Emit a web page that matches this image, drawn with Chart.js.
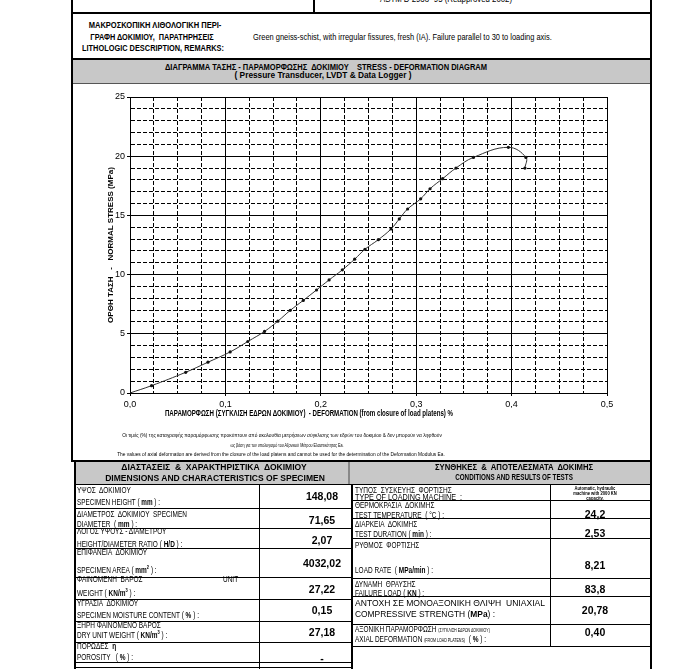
<!DOCTYPE html>
<html>
<head>
<meta charset="utf-8">
<script src="https://cdn.jsdelivr.net/npm/chart.js@4.4.0/dist/chart.umd.min.js"></script>
<style>
    body { margin: 0; background: #fff; }
    #page { position: relative; width: 681px; height: 669px; overflow: hidden; font-family: 'Liberation Sans', Arial, sans-serif; color: #000; }
    .ln { position: absolute; background: #000; }
    .gray { position: absolute; background: #c8c8c8; }
    .c, .l { position: absolute; white-space: nowrap; line-height: 1; }
    .c { transform: translate(-50%, -50%) scaleX(.75); }
    .l { transform-origin: 0 50%; transform: translateY(-50%) scaleX(.72); }
    .s { font-size: 9px; }
    .b { font-weight: bold; }
    .c.v { font-size: 10.5px; font-weight: bold; transform: translate(-50%, -50%); }
    .tiny { font-size: 5px; }
    #chart { position: absolute; left: 75px; top: 88px; }
</style>
</head>
<body>
<div id="page">
    <!-- frame -->
    <div class="ln" style="left:71px;top:0;width:2px;height:460px"></div>
    <div class="ln" style="left:74px;top:460px;width:2px;height:209px"></div>
    <div class="ln" style="left:650px;top:0;width:2px;height:669px"></div>
    <div class="ln" style="left:313px;top:0;width:2px;height:12px"></div>
    <div class="ln" style="left:71px;top:12px;width:581px;height:2px"></div>
    <div class="ln" style="left:71px;top:58px;width:581px;height:2px"></div>
    <div class="gray" style="left:73px;top:60px;width:577px;height:23px"></div>
    <div class="ln" style="left:73px;top:83px;width:577px;height:1px;background:#555"></div>

    <div class="c" style="left:446px;top:-1px;font-size:9px" data-w="132">ASTM D 2938 -95 (Reapproved 2002)</div>

    <!-- description -->
    <div class="c b" style="left:155px;top:25px;font-size:9px" data-w="133">ΜΑΚΡΟΣΚΟΠΙΚΗ ΛΙΘΟΛΟΓΙΚΗ ΠΕΡΙ-</div>
    <div class="c b" style="left:152px;top:36.5px;font-size:9px" data-w="123">ΓΡΑΦΗ ΔΟΚΙΜΙΟΥ,&nbsp; ΠΑΡΑΤΗΡΗΣΕΙΣ</div>
    <div class="c b" style="left:152.5px;top:48px;font-size:9px" data-w="142">LITHOLOGIC DESCRIPTION, REMARKS:</div>
    <div class="l" style="left:253px;top:36.5px;font-size:9.5px" data-w="299">Green gneiss-schist, with irregular fissures, fresh (IA). Failure parallel to 30 to loading axis.</div>

    <!-- chart header -->
    <div class="c b" style="left:326px;top:66.5px;font-size:9px" data-w="322">ΔΙΑΓΡΑΜΜΑ ΤΑΣΗΣ - ΠΑΡΑΜΟΡΦΩΣΗΣ&nbsp; ΔΟΚΙΜΙΟΥ &nbsp;&nbsp; STRESS - DEFORMATION DIAGRAM</div>
    <div class="c b" style="left:323px;top:75px;font-size:9px" data-w="177">( Pressure Transducer, LVDT &amp; Data Logger )</div>

    <canvas id="chart" width="545" height="320"></canvas>

    <div class="c b" style="left:309px;top:413px;font-size:9px" data-w="288">ΠΑΡΑΜΟΡΦΩΣΗ (ΣΥΓΚΛΙΣΗ ΕΔΡΩΝ ΔΟΚΙΜΙΟΥ)&nbsp; - DEFORMATION (from closure of load platens) %</div>

    <div class="c" style="left:282px;top:435px;font-size:6px" data-w="320">Οι τιμές (%) της καταγραφής παραμόρφωσης προκύπτουν από ακολουθία μετρήσεων σύγκλισης των εδρών του δοκιμίου &amp; δεν μπορούν να ληφθούν</div>
    <div class="c" style="left:287px;top:445px;font-size:6px" data-w="113">ως βάση για τον υπολογισμό του Αξονικού Μέτρου Ελαστικότητας Εa.</div>
    <div class="c" style="left:281px;top:453.5px;font-size:6px" data-w="328">The values of axial deformation are derived from the closure of the load platens and cannot be used for the determination of the Deformation Modulus Ea.</div>

    <!-- tables frame -->
    <div class="ln" style="left:71px;top:460px;width:581px;height:2px"></div>
    <div class="gray" style="left:76px;top:462px;width:272px;height:22px"></div>
    <div class="gray" style="left:350px;top:462px;width:300px;height:22px"></div>
    <div class="ln" style="left:348px;top:462px;width:2px;height:22px;background:#888"></div>
    <div class="ln" style="left:76px;top:484px;width:574px;height:1px"></div>
    <div class="ln" style="left:351px;top:484px;width:2px;height:185px"></div>

    <div class="c b" style="left:214px;top:467px;font-size:9px" data-w="185">ΔΙΑΣΤΑΣΕΙΣ&nbsp; &amp;&nbsp; ΧΑΡΑΚΤΗΡΙΣΤΙΚΑ&nbsp; ΔΟΚΙΜΙΟΥ</div>
    <div class="c b" style="left:215px;top:477.5px;font-size:9px" data-w="220">DIMENSIONS AND CHARACTERISTICS OF SPECIMEN</div>
    <div class="c b" style="left:514px;top:466.5px;font-size:9px" data-w="158">ΣΥΝΘΗΚΕΣ&nbsp; &amp;&nbsp; ΑΠΟΤΕΛΕΣΜΑΤΑ&nbsp; ΔΟΚΙΜΗΣ</div>
    <div class="c b" style="left:514px;top:477px;font-size:9px" data-w="118">CONDITIONS AND RESULTS OF TESTS</div>

    <!-- left table -->
    <div class="ln" style="left:259px;top:484px;width:1px;height:185px"></div>
    <div class="ln" style="left:76px;top:508px;width:275px;height:1px"></div>
    <div class="ln" style="left:76px;top:528px;width:275px;height:1px"></div>
    <div class="ln" style="left:76px;top:548px;width:275px;height:1px"></div>
    <div class="ln" style="left:76px;top:577px;width:275px;height:1px"></div>
    <div class="ln" style="left:76px;top:599px;width:275px;height:1px"></div>
    <div class="ln" style="left:76px;top:621px;width:275px;height:1px"></div>
    <div class="ln" style="left:76px;top:642px;width:275px;height:1px"></div>
    <div class="ln" style="left:76px;top:662px;width:275px;height:1px"></div>
    <div class="ln" style="left:76px;top:667px;width:275px;height:1px"></div>

    <div class="l s" style="left:77px;top:490px">ΥΨΟΣ&nbsp; ΔΟΚΙΜΙΟΥ</div>
    <div class="l s" style="left:77px;top:501.5px" data-w="83">SPECIMEN HEIGHT ( <b>mm</b> ) :</div>
    <div class="c v" style="left:322px;top:496px">148,08</div>

    <div class="l s" style="left:77px;top:514px">ΔΙΑΜΕΤΡΟΣ&nbsp; ΔΟΚΙΜΙΟΥ&nbsp; SPECIMEN</div>
    <div class="l s" style="left:77px;top:524px">DIAMETER&nbsp; ( <b>mm</b> ) :</div>
    <div class="c v" style="left:322px;top:519.5px">71,65</div>

    <div class="l s" style="left:77px;top:531px">ΛΟΓΟΣ ΥΨΟΥΣ - ΔΙΑΜΕΤΡΟΥ</div>
    <div class="l s" style="left:77px;top:544px">HEIGHT/DIAMETER RATIO ( <b>H/D</b> ) :</div>
    <div class="c v" style="left:322px;top:540px">2,07</div>

    <div class="l s" style="left:77px;top:552px">ΕΠΙΦΑΝΕΙΑ&nbsp; ΔΟΚΙΜΙΟΥ</div>
    <div class="l s" style="left:77px;top:570px">SPECIMEN AREA ( <b>mm<sup style="font-size:5.5px">2</sup></b> ) :</div>
    <div class="c v" style="left:322px;top:563px">4032,02</div>

    <div class="l s" style="left:77px;top:579px">ΦΑΙΝΟΜΕΝΗ&nbsp; ΒΑΡΟΣ</div>
    <div class="l s" style="left:223px;top:579px">UNIT</div>
    <div class="l s" style="left:77px;top:593px">WEIGHT ( <b>KN/m<sup style="font-size:5.5px">3</sup></b> ) :</div>
    <div class="c v" style="left:322px;top:588.5px">27,22</div>

    <div class="l s" style="left:77px;top:602.5px">ΥΓΡΑΣΙΑ&nbsp; ΔΟΚΙΜΙΟΥ</div>
    <div class="l s" style="left:77px;top:615px">SPECIMEN MOISTURE CONTENT ( <b>%</b> ) :</div>
    <div class="c v" style="left:322px;top:609.5px">0,15</div>

    <div class="l s" style="left:77px;top:625px">ΞΗΡΗ ΦΑΙΝΟΜΕΝΟ ΒΑΡΟΣ</div>
    <div class="l s" style="left:77px;top:635px">DRY UNIT WEIGHT ( <b>KN/m<sup style="font-size:5.5px">3</sup></b> ) :</div>
    <div class="c v" style="left:322px;top:631.5px">27,18</div>

    <div class="l s" style="left:77px;top:646px">ΠΟΡΩΔΕΣ&nbsp; <b>η</b></div>
    <div class="l s" style="left:77px;top:656.5px">POROSITY &nbsp; ( <b>%</b> ) :</div>
    <div class="c v" style="left:322px;top:658px">-</div>

    <!-- right table -->
    <div class="ln" style="left:550px;top:484px;width:1px;height:162px"></div>
    <div class="ln" style="left:353px;top:500px;width:297px;height:1px"></div>
    <div class="ln" style="left:353px;top:518px;width:297px;height:1px"></div>
    <div class="ln" style="left:353px;top:538px;width:297px;height:1px"></div>
    <div class="ln" style="left:353px;top:578px;width:297px;height:1px"></div>
    <div class="ln" style="left:353px;top:596px;width:297px;height:1px"></div>
    <div class="ln" style="left:353px;top:624px;width:297px;height:1px"></div>
    <div class="ln" style="left:353px;top:646px;width:297px;height:1px"></div>

    <div class="l s" style="left:354.5px;top:489.5px" data-w="97">ΤΥΠΟΣ&nbsp; ΣΥΣΚΕΥΗΣ&nbsp; ΦΟΡΤΙΣΗΣ</div>
    <div class="l s" style="left:354.5px;top:497px" data-w="107">TYPE OF LOADING MACHINE&nbsp; :</div>
    <div class="c b" style="left:595px;top:488.5px;font-size:5.5px">Automatic, hydraulic</div>
    <div class="c b" style="left:595px;top:493.5px;font-size:5.5px">machine with 2000 KN</div>
    <div class="c b" style="left:595px;top:498.5px;font-size:5.5px">capacity.</div>

    <div class="l s" style="left:354.5px;top:505px">ΘΕΡΜΟΚΡΑΣΙΑ&nbsp; ΔΟΚΙΜΗΣ</div>
    <div class="l s" style="left:354.5px;top:515px">TEST TEMPERATURE&nbsp; ( °C ) :</div>
    <div class="c v" style="left:595px;top:514px">24,2</div>

    <div class="l s" style="left:354.5px;top:523.5px">ΔΙΑΡΚΕΙΑ&nbsp; ΔΟΚΙΜΗΣ</div>
    <div class="l s" style="left:354.5px;top:533.5px">TEST DURATION ( <b>min</b> ) :</div>
    <div class="c v" style="left:595px;top:532.5px">2,53</div>

    <div class="l s" style="left:354.5px;top:544.5px">ΡΥΘΜΟΣ&nbsp; ΦΟΡΤΙΣΗΣ</div>
    <div class="l s" style="left:354.5px;top:570px">LOAD RATE&nbsp; ( <b>MPa/min</b> ) :</div>
    <div class="c v" style="left:595px;top:565px">8,21</div>

    <div class="l s" style="left:354.5px;top:584px">ΔΥΝΑΜΗ&nbsp; ΘΡΑΥΣΗΣ</div>
    <div class="l s" style="left:354.5px;top:592.5px">FAILURE LOAD ( <b>KN</b> ) :</div>
    <div class="c v" style="left:595px;top:589px">83,8</div>

    <div class="l s" style="left:354.5px;top:603px" data-w="190">ΑΝΤΟΧΗ ΣΕ ΜΟΝΟΑΞΟΝΙΚΗ ΘΛΙΨΗ&nbsp; UNIAXIAL</div>
    <div class="l s" style="left:354.5px;top:614px" data-w="140">COMPRESSIVE STRENGTH (<b>MPa</b>) :</div>
    <div class="c v" style="left:595px;top:610px">20,78</div>

    <div class="l s" style="left:354.5px;top:628.5px">ΑΞΟΝΙΚΗ ΠΑΡΑΜΟΡΦΩΣΗ <span class="tiny">(ΣΥΓΚΛΙΣΗ ΕΔΡΩΝ ΔΟΚΙΜΙΟΥ)</span></div>
    <div class="l s" style="left:354.5px;top:638.5px">AXIAL DEFORMATION <span class="tiny">(FROM LOAD PLATENS)</span>&nbsp; ( <b>%</b> ) :</div>
    <div class="c v" style="left:595px;top:632px">0,40</div>
</div>

<script>
// ─── Stress - deformation readings ───────────────────────────────────────────
const deformation = [0, 0.0226, 0.0584, 0.0817, 0.105, 0.1235, 0.141, 0.155, 0.168, 0.1816,
    0.1955, 0.2087, 0.2226, 0.2355, 0.2463, 0.2603, 0.2736, 0.2823, 0.291, 0.3047,
    0.3145, 0.3277, 0.3417, 0.36, 0.3966, 0.415, 0.414];
const stress = [0, 0.62, 1.75, 2.6, 3.47, 4.35, 5.2, 6.07, 6.98, 7.82,
    8.7, 9.55, 10.4, 11.3, 12.14, 12.95, 13.85, 14.7, 15.54, 16.4,
    17.25, 18.1, 19.0, 19.9, 20.75, 19.9, 19.0];

// major (labelled, solid) ticks; minor grid every xMinorStep / yMinorStep is dashed
const xMajorTicks = [0, 0.1, 0.2, 0.3, 0.4, 0.5];
const yMajorTicks = [0, 5, 10, 15, 20, 25];
const xMinorStep = 0.025;
const yMinorStep = 1;

window.addEventListener('DOMContentLoaded', () => {
    // squeeze text to the widths measured on the sheet
    document.querySelectorAll('[data-w]').forEach(el => {
        const k = +el.dataset.w / el.offsetWidth;
        el.style.transform = el.classList.contains('c')
            ? `translate(-50%, -50%) scaleX(${k})`
            : `translateY(-50%) scaleX(${k})`;
    });

    const isMajor = (list, v) => list.some(t => Math.abs(t - v) < 1e-6);
    const xMajor = v => isMajor(xMajorTicks, v);
    const yMajor = v => isMajor(yMajorTicks, v);
    const minorDash = (fn) => (c) => (c.tick && !fn(c.tick.value)) ? [4, 2] : [];
    const tickCol = (fn) => (c) => (c.tick && !fn(c.tick.value)) ? 'rgba(0,0,0,0)' : '#000';

    Chart.defaults.font.family = "'Liberation Sans', Arial, sans-serif";
    Chart.defaults.color = '#000';

    new Chart(document.getElementById('chart').getContext('2d'), {
        type: 'scatter',
        data: {
            datasets: [{
                data: deformation.map((x, i) => ({ x, y: stress[i] })),
                showLine: true,
                borderColor: '#333',
                borderWidth: 1,
                tension: 0.4,
                pointRadius: 1.6,
                pointBackgroundColor: '#111',
                pointBorderWidth: 0
            }]
        },
        options: {
            responsive: false,
            animation: false,
            events: [],
            layout: { padding: { top: 9, right: 13, bottom: 0, left: 0 } },
            plugins: { legend: { display: false }, tooltip: { enabled: false } },
            scales: {
                x: {
                    type: 'linear', min: 0, max: 0.5,
                    ticks: {
                        stepSize: xMinorStep, autoSkip: false, maxRotation: 0, maxTicksLimit: 100, padding: 3,
                        font: { size: 9 },
                        callback: v => xMajor(v) ? v.toFixed(1).replace('.', ',') : ''
                    },
                    grid: { color: '#000', lineWidth: 1, tickLength: 3, tickColor: tickCol(xMajor) },
                    border: { color: '#000', width: 1, dash: minorDash(xMajor) },
                    afterFit: s => { s.height = 15; }
                },
                y: {
                    type: 'linear', min: 0, max: 25,
                    ticks: {
                        stepSize: yMinorStep, autoSkip: false, maxTicksLimit: 100, padding: 2,
                        font: { size: 9 },
                        callback: v => yMajor(v) ? String(v) : ''
                    },
                    grid: { color: '#000', lineWidth: 1, tickLength: 3, tickColor: tickCol(yMajor) },
                    border: { color: '#000', width: 1, dash: minorDash(yMajor) },
                    title: {
                        display: true,
                        text: 'ΟΡΘΗ ΤΑΣΗ   -   NORMAL STRESS (MPa)',
                        font: { size: 8, weight: 'bold' },
                        padding: { top: 30.5, bottom: 0 }
                    },
                    afterFit: s => { s.width = 55; }
                }
            }
        }
    });
});
</script>
</body>
</html>
